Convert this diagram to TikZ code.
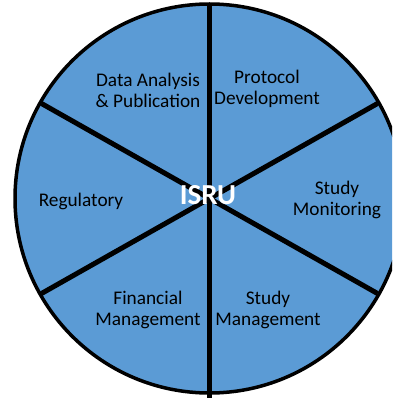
\documentclass[tikz,border=0pt]{standalone}
\usepackage{fontspec}
\usetikzlibrary{calc}
\setmainfont{Carlito}
\definecolor{wedge}{HTML}{5B9BD5}
\begin{document}
\begin{tikzpicture}[x=1pt,y=-1pt,
  lbl/.style={align=center, font=\fontsize{19.3}{21}\selectfont, text=black, inner sep=0pt},
  spoke/.style={line width=5pt, black},
  rim/.style={fill=wedge, draw=black, line width=3.5pt}]
\useasboundingbox (0,0) rectangle (392,398);
\clip (0,0) rectangle (392,398);
\coordinate (c) at (209.5,198.5);
\coordinate (top) at (209.5,3);
\coordinate (bot) at (209.5,398);
\coordinate (ur) at ($(c)+(168,-95)$);
\coordinate (ll) at ($(c)+(-168,95)$);
\coordinate (ul) at ($(c)+(-168,-95)$);
\coordinate (lr) at ($(c)+(168,95)$);
\path[rim] (c) circle (194.5);
\draw[spoke] (top) -- (bot);
\draw[spoke] (ur) -- (ll);
\draw[spoke] (ul) -- (lr);
\node[lbl] (data) at (148,90) {Data Analysis\\\& Publication};
\node[lbl] (prot) at (267,89) {Protocol\\Development};
\node[lbl] (reg) at (81,201) {Regulatory};
\node[lbl] (mon) at (337,200) {Study\\Monitoring};
\node[lbl] (fin) at (148,310) {Financial\\Management};
\node[lbl] (sman) at (268,310) {Study\\Management};
\node[font=\bfseries\fontsize{29}{32}\selectfont, text=white, inner sep=0pt] (isru) at (208,195) {ISRU};
\end{tikzpicture}
\end{document}
